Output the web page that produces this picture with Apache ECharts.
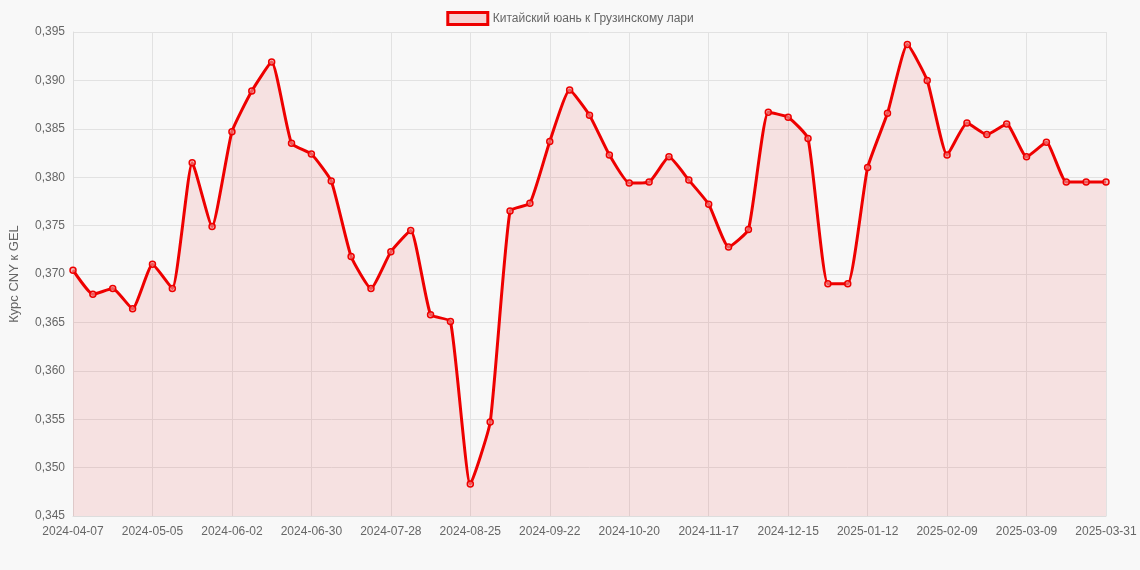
<!DOCTYPE html>
<html>
<head>
<meta charset="utf-8">
<script src="https://cdn.jsdelivr.net/npm/echarts@6/dist/echarts.min.js"></script>
<style>
  html, body { margin: 0; padding: 0; background: #f8f8f8; }
  #chart { width: 1140px; height: 570px; }
</style>
</head>
<body>
<div id="chart"></div>
<script>
var dates = [
  '2024-04-07','2024-04-14','2024-04-21','2024-04-28','2024-05-05','2024-05-12','2024-05-19','2024-05-26',
  '2024-06-02','2024-06-09','2024-06-16','2024-06-23','2024-06-30','2024-07-07','2024-07-14','2024-07-21',
  '2024-07-28','2024-08-04','2024-08-11','2024-08-18','2024-08-25','2024-09-01','2024-09-08','2024-09-15',
  '2024-09-22','2024-09-29','2024-10-06','2024-10-13','2024-10-20','2024-10-27','2024-11-03','2024-11-10',
  '2024-11-17','2024-11-24','2024-12-01','2024-12-08','2024-12-15','2024-12-22','2024-12-29','2025-01-05',
  '2025-01-12','2025-01-19','2025-01-26','2025-02-02','2025-02-09','2025-02-16','2025-02-23','2025-03-02',
  '2025-03-09','2025-03-16','2025-03-23','2025-03-30','2025-03-31'
];
var rates = [
  0.3704, 0.3679, 0.3685, 0.3664, 0.3710, 0.3685, 0.3815, 0.3749,
  0.3847, 0.3889, 0.3919, 0.3835, 0.3824, 0.3796, 0.3718, 0.3685,
  0.3723, 0.3745, 0.3658, 0.3651, 0.3483, 0.3547, 0.3765, 0.3773,
  0.3837, 0.3890, 0.3864, 0.3823, 0.3794, 0.3795, 0.3821, 0.3797,
  0.3772, 0.3728, 0.3746, 0.3867, 0.3862, 0.3840, 0.3690, 0.3690,
  0.3810, 0.3866, 0.3937, 0.3900, 0.3823, 0.3856, 0.3844, 0.3855,
  0.3821, 0.3836, 0.3795, 0.3795, 0.3795
];
var seriesName = 'Китайский юань к Грузинскому лари';
var lastIdx = dates.length - 1;

var myChart = echarts.init(document.getElementById('chart'));
var option = {
  backgroundColor: '#f8f8f8',
  textStyle: { fontFamily: 'Liberation Sans, Arial, sans-serif' },
  legend: {
    top: 6,
    itemWidth: 40,
    itemHeight: 12,
    icon: 'rect',
    textStyle: { color: '#666', fontSize: 12 },
    data: [{ name: seriesName, itemStyle: { color: 'rgba(230,0,0,0.15)', borderColor: '#e00', borderWidth: 3 } }]
  },
  grid: { left: 68, right: 34, top: 32, bottom: 54 },
  xAxis: {
    type: 'category',
    boundaryGap: false,
    data: dates,
    axisLine: { lineStyle: { color: '#ddd' } },
    axisTick: { show: false },
    axisLabel: {
      color: '#666', fontSize: 12, margin: 10,
      interval: function (i) { return i % 4 === 0 || i === lastIdx; }
    },
    splitLine: {
      show: true,
      interval: function (i) { return i % 4 === 0 || i === lastIdx; },
      lineStyle: { color: '#e2e2e2' }
    }
  },
  yAxis: {
    type: 'value',
    min: 0.345, max: 0.395, interval: 0.005,
    name: 'Курс CNY к GEL',
    nameLocation: 'middle',
    nameGap: 52,
    nameTextStyle: { color: '#666', fontSize: 13 },
    axisLine: { show: true, lineStyle: { color: '#ddd' } },
    axisLabel: {
      color: '#666', fontSize: 12,
      formatter: function (v) { return v.toFixed(3).replace('.', ','); }
    },
    splitLine: { lineStyle: { color: '#e2e2e2' } }
  },
  series: [{
    name: seriesName,
    type: 'line',
    data: rates,
    smooth: 0.15,
    symbol: 'circle',
    symbolSize: 6,
    itemStyle: { color: 'rgba(240,150,150,0.6)', borderColor: '#e00', borderWidth: 1.5 },
    lineStyle: { color: '#e00', width: 3 },
    areaStyle: { color: 'rgba(230,0,0,0.13)' }
  }]
};
myChart.setOption(option);
</script>
</body>
</html>
